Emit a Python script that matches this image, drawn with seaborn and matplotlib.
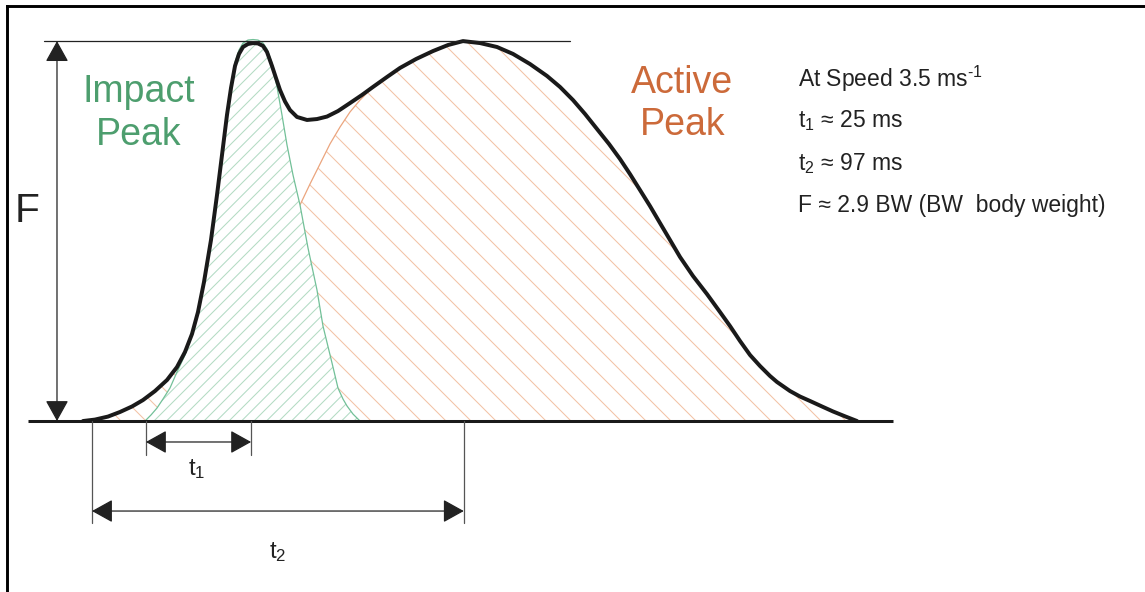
import numpy as np
import pandas as pd
import matplotlib
matplotlib.use("Agg")
import matplotlib.pyplot as plt
from matplotlib.lines import Line2D
import seaborn as sns

# ---------------- data (time in ms, force in body weights) ----------------
# total vertical ground reaction force curve
time_ms = [-2.35, 0.78, 4.18, 7.32, 10.46, 13.33, 16.47, 19.61, 22.22, 24.31,
           26.14, 27.71, 29.28, 31.11, 32.68, 33.99, 35.29, 36.34, 37.39, 38.43,
           39.48, 40.78, 42.09, 43.40, 44.71, 45.75, 47.06, 48.10, 49.15, 50.46,
           51.76, 53.59, 56.21, 58.82, 61.44, 64.31, 67.45, 70.59, 73.46, 77.12,
           80.52, 84.71, 89.15, 93.07, 96.99, 101.44, 105.88, 110.07, 114.51,
           118.95, 122.35, 125.75, 128.89, 132.03, 135.16, 138.04, 140.65,
           143.27, 145.88, 148.50, 151.11, 153.73, 157.12, 160.78, 164.18,
           166.80, 169.41, 172.03, 174.64, 177.25, 179.08, 182.48, 185.10,
           187.71, 190.85, 193.73, 196.86, 200.00]
force_bw = [0.0, 0.011, 0.034, 0.069, 0.111, 0.160, 0.229, 0.313, 0.412, 0.527,
            0.664, 0.832, 1.061, 1.382, 1.725, 2.031, 2.336, 2.542, 2.710, 2.802,
            2.855, 2.878, 2.885, 2.882, 2.863, 2.817, 2.710, 2.618, 2.527, 2.439,
            2.374, 2.321, 2.298, 2.305, 2.324, 2.366, 2.427, 2.489, 2.550, 2.626,
            2.695, 2.763, 2.824, 2.870, 2.900, 2.885, 2.855, 2.802, 2.725,
            2.634, 2.550, 2.450, 2.344, 2.229, 2.115, 2.000, 1.885,
            1.763, 1.641, 1.511, 1.382, 1.252, 1.107, 0.969, 0.832,
            0.725, 0.611, 0.504, 0.420, 0.344, 0.298, 0.229, 0.187,
            0.153, 0.111, 0.073, 0.036, 0.0]

# impact-peak component (green)
impact_time = [13.86, 15.42, 16.99, 18.56, 20.39, 22.22, 24.31, 26.14, 27.71,
               29.28, 31.11, 32.68, 33.99, 35.29, 36.34, 37.39, 38.43, 39.48,
               40.78, 42.09, 43.40, 44.71, 45.75, 47.06, 48.37, 49.67, 50.98,
               52.55, 54.38, 56.47, 58.82, 60.39, 62.75, 64.31, 65.62, 66.67,
               68.24, 70.07]
impact_force = [0.0, 0.046, 0.099, 0.168, 0.252, 0.374, 0.504, 0.664, 0.847,
                1.076, 1.397, 1.740, 2.053, 2.359, 2.565, 2.740, 2.832, 2.885,
                2.908, 2.912, 2.908, 2.885, 2.840, 2.733, 2.550, 2.336, 2.107,
                1.878, 1.649, 1.321, 1.000, 0.725, 0.443, 0.252, 0.168, 0.115,
                0.053, 0.0]

# active-peak component (orange): rising edge, then it joins the total curve
active_rise_time = [-2.35, 4.18, 10.46, 16.47, 19.61, 28.24, 38.69, 46.54,
                    54.38, 56.99, 59.61, 62.22, 64.84, 67.45, 70.07]
active_rise_force = [0.0, 0.034, 0.111, 0.229, 0.313, 0.580, 0.962, 1.267,
                     1.649, 1.809, 1.962, 2.115, 2.244, 2.359, 2.450]
active_join_time = 73.46

peak_force = 2.9
t1_bounds = [14.1, 41.6]
t2_bounds = [0.0, 97.2]

info_lines = ["At Speed 3.5 ms$^{\u20101}$",
              "t$_1$ \u2248 25 ms",
              "t$_2$ \u2248 97 ms",
              "F \u2248 2.9 BW (BW  body weight)"]

# ---------------- style ----------------
sns.set_theme(style="white")
plt.rcParams["font.family"] = ["Liberation Sans", "DejaVu Sans"]
plt.rcParams["mathtext.fontset"] = "custom"
plt.rcParams["mathtext.rm"] = "Liberation Sans"
plt.rcParams["mathtext.it"] = "Liberation Sans:italic"
plt.rcParams["mathtext.default"] = "regular"
plt.rcParams["hatch.linewidth"] = 0.5

GREEN_TXT = "#4d9e6e"
ORANGE_TXT = "#cc6a3a"
GREEN_HATCH = "#b3dbc4"
ORANGE_HATCH = "#f3c2a6"
GREEN_EDGE = "#72c098"
ORANGE_EDGE = "#eba57e"
INK = "#1a1a1a"

DPI = 150
fig = plt.figure(figsize=(1145 / DPI, 592 / DPI), dpi=DPI)
ax = fig.add_axes([0, 0, 1, 1])
ax.set_xlim(-24.05, 275.29)
ax.set_ylim(-1.305, 3.2137)
ax.axis("off")

# assemble active component from its rising edge and the total curve
t_arr = np.asarray(time_ms)
f_arr = np.asarray(force_bw)
tail = t_arr >= active_join_time
active_time = np.concatenate([active_rise_time, t_arr[tail]])
active_force = np.concatenate([active_rise_force, f_arr[tail]])

# active (orange) region
ax.fill_between(active_time, 0, active_force, facecolor="white",
                edgecolor=ORANGE_HATCH, hatch="\\\\", linewidth=0, zorder=1)
ax.plot(active_time, active_force, color=ORANGE_EDGE, lw=0.6, zorder=1.1)

# impact (green) region
ax.fill_between(impact_time, 0, impact_force, facecolor="white",
                edgecolor=GREEN_HATCH, hatch="////", linewidth=0, zorder=2)
ax.plot(impact_time, impact_force, color=GREEN_EDGE, lw=0.6, zorder=2.1)

# total force curve
df = pd.DataFrame({"t": time_ms, "F": force_bw})
sns.lineplot(data=df, x="t", y="F", sort=False, estimator=None,
             color=INK, lw=1.9, ax=ax, zorder=3,
             solid_joinstyle="round", solid_capstyle="round")

# baseline
ax.plot([-16.73, 209.4], [0, 0], color=INK, lw=1.45, zorder=3,
        solid_capstyle="butt")

# peak reference line
ax.plot([-12.55, 124.97], [peak_force, peak_force], color="#222222", lw=0.6,
        zorder=3)

arrow_kw = dict(arrowstyle="<|-|>,head_length=0.36,head_width=0.2",
                mutation_scale=24, color="#222222", lw=0.6,
                shrinkA=0, shrinkB=0)

# F dimension arrow
ax.annotate("", xy=(-9.15, peak_force), xytext=(-9.15, 0), arrowprops=arrow_kw,
            zorder=4)

# t1 dimension
for tb in t1_bounds:
    ax.plot([tb, tb], [0, -0.26], color="#555555", lw=0.6, zorder=4)
ax.annotate("", xy=(t1_bounds[1], -0.160), xytext=(t1_bounds[0], -0.160),
            arrowprops=arrow_kw, zorder=4)

# t2 dimension
for tb in t2_bounds:
    ax.plot([tb, tb], [0, -0.779], color="#555555", lw=0.6, zorder=4)
ax.annotate("", xy=(t2_bounds[1], -0.687), xytext=(t2_bounds[0], -0.687),
            arrowprops=arrow_kw, zorder=4)

# labels
ax.text(27.45, -0.412, "t$_1$", fontsize=11.5, ha="center", va="baseline",
        color="#222222")
ax.text(48.6, -1.046, "t$_2$", fontsize=11.5, ha="center", va="baseline",
        color="#222222")
ax.text(-17.07, 1.521, "F", fontsize=19.5, ha="center", va="baseline",
        color="#222222")

ax.text(12.16, 2.437, "Impact", fontsize=18, ha="center", va="baseline",
        color=GREEN_TXT)
ax.text(12.16, 2.107, "Peak", fontsize=18, ha="center", va="baseline",
        color=GREEN_TXT)
ax.text(154.3, 2.502, "Active", fontsize=18, ha="center", va="baseline",
        color=ORANGE_TXT)
ax.text(154.3, 2.183, "Peak", fontsize=18, ha="center", va="baseline",
        color=ORANGE_TXT)

info_y = [2.55, 2.242, 1.916, 1.593]
for s, y in zip(info_lines, info_y):
    ax.text(184.6, y, s, fontsize=11.0, ha="left", va="baseline",
            color="#222222")

# frame (left and top edges)
fx = 6.5 / 1145
fy = 1 - 6.0 / 592
fig.add_artist(Line2D([fx, fx], [0, fy], color="black", lw=1.4,
                      transform=fig.transFigure, solid_capstyle="projecting"))
fig.add_artist(Line2D([fx, 1], [fy, fy], color="black", lw=1.4,
                      transform=fig.transFigure, solid_capstyle="projecting"))

fig.savefig("out.png", dpi=DPI)
